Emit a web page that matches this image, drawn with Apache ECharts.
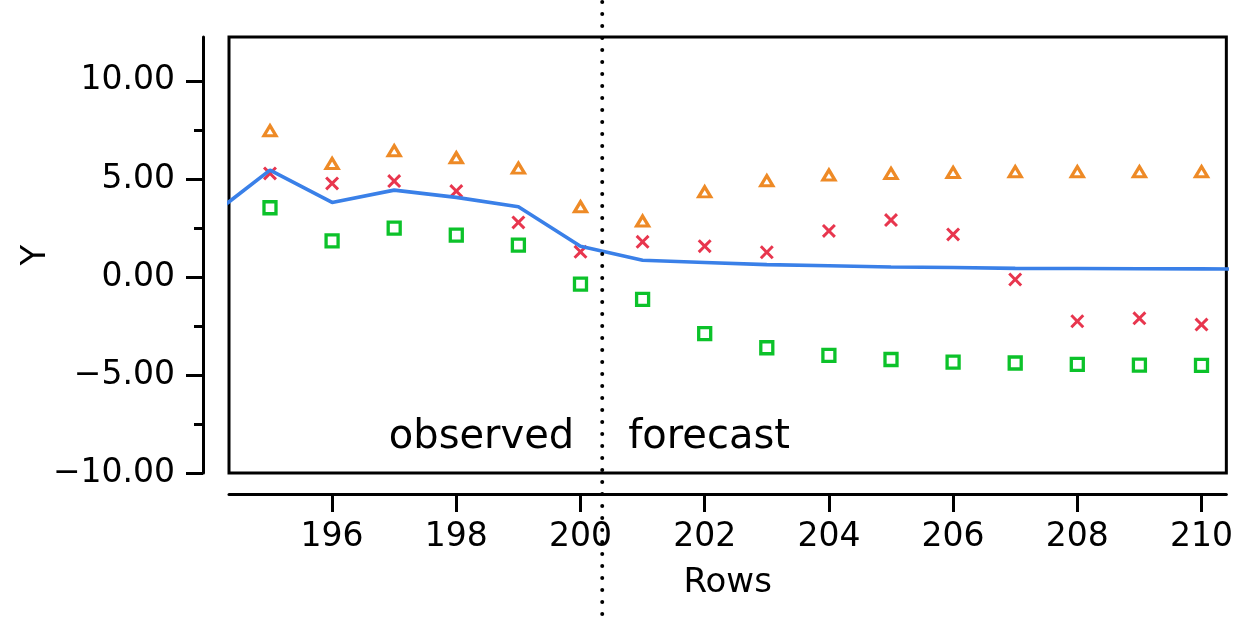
<!DOCTYPE html>
<html>
<head>
<meta charset="utf-8">
<script src="https://cdn.jsdelivr.net/npm/echarts@6/dist/echarts.min.js"></script>
<style>
html,body{margin:0;padding:0;background:#fff;}
#main{width:1236px;height:621px;}
</style>
</head>
<body>
<div id="main"></div>
<script>
// ---- data ----
const rows = [194, 195, 196, 197, 198, 199, 200, 201, 202, 203, 204, 205, 206, 207, 208, 209, 210, 211];
const predicted = [3.0, 5.45, 3.80, 4.43, 4.06, 3.58, 1.57, 0.85, 0.74, 0.63, 0.57, 0.51, 0.48, 0.44, 0.43, 0.42, 0.41, 0.40];
const markRows = [195, 196, 197, 198, 199, 200, 201, 202, 203, 204, 205, 206, 207, 208, 209, 210];
const upper = [7.46, 5.79, 6.44, 6.08, 5.55, 3.58, 2.85, 4.34, 4.91, 5.20, 5.28, 5.33, 5.37, 5.37, 5.37, 5.37];
const actual = [5.28, 4.77, 4.89, 4.38, 2.78, 1.28, 1.79, 1.57, 1.26, 2.35, 2.90, 2.17, -0.13, -2.26, -2.11, -2.43];
const lower = [3.53, 1.84, 2.49, 2.13, 1.62, -0.37, -1.14, -2.89, -3.61, -4.00, -4.21, -4.34, -4.39, -4.46, -4.50, -4.51];
const xTicks = [196, 198, 200, 202, 204, 206, 208, 210];
const yTicks = [-10, -5, 0, 5, 10];
const yMinorTicks = [-7.5, -2.5, 2.5, 7.5];
const forecastStart = 200.35;
const textLevel = -8.2;
const labelObserved = 'observed';
const labelForecast = 'forecast';

const pairs = (xs, ys) => xs.map((x, i) => [x, ys[i]]);
const FONT = "'DejaVu Sans', sans-serif";
const X_PATH = 'path://M0,1.5 L1.5,0 L5,3.5 L8.5,0 L10,1.5 L6.5,5 L10,8.5 L8.5,10 L5,6.5 L1.5,10 L0,8.5 L3.5,5 Z';

const chart = echarts.init(document.getElementById('main'), null, {renderer: 'canvas'});
const option = {
  backgroundColor: '#fff',
  animation: false,
  grid: {left: 229, right: 8, top: 37, bottom: 148, show: true, borderColor: '#000', borderWidth: 3, backgroundColor: 'transparent'},
  xAxis: {
    type: 'value', min: 194.34, max: 210.4,
    offset: 21,
    name: 'Rows', nameLocation: 'middle', nameGap: 72, nameMoveOverlap: false,
    nameTextStyle: {fontFamily: FONT, fontSize: 34, color: '#000'},
    axisLine: {show: true, onZero: false, lineStyle: {color: '#000', width: 3}},
    axisTick: {show: true, length: 18, lineStyle: {color: '#000', width: 3}, customValues: xTicks},
    axisLabel: {fontFamily: FONT, fontSize: 33, color: '#000', margin: 27, customValues: xTicks},
    splitLine: {show: false}
  },
  yAxis: [{
    type: 'value', min: -10, max: 12.24,
    offset: 26,
    name: 'Y', nameLocation: 'middle', nameGap: 150, nameMoveOverlap: false,
    nameTextStyle: {fontFamily: FONT, fontSize: 34, color: '#000'},
    axisLine: {show: true, onZero: false, lineStyle: {color: '#000', width: 3}},
    axisTick: {show: true, length: 17, lineStyle: {color: '#000', width: 3}, customValues: yTicks},
    axisLabel: {fontFamily: FONT, fontSize: 33, color: '#000', margin: 28, customValues: yTicks,
      formatter: v => (v < 0 ? '\u2212' : '') + Math.abs(v).toFixed(2)},
    splitLine: {show: false}
  }, {
    type: 'value', min: -10, max: 12.24, position: 'left',
    offset: 26,
    axisLine: {show: false},
    axisTick: {show: true, length: 9, lineStyle: {color: '#000', width: 3}, customValues: yMinorTicks},
    axisLabel: {show: false},
    splitLine: {show: false}
  }],
  series: [
    {
      type: 'scatter', data: pairs(markRows, upper), symbol: 'triangle', symbolSize: [12, 10],
      itemStyle: {color: 'rgba(255,255,255,0)', borderColor: '#ee8a26', borderWidth: 3.2, opacity: 1}, z: 2
    },
    {
      type: 'scatter', data: pairs(markRows, actual), symbol: X_PATH, symbolSize: 14,
      itemStyle: {color: '#e8364e', opacity: 1}, z: 2
    },
    {
      type: 'scatter', data: pairs(markRows, lower), symbol: 'rect', symbolSize: 12,
      itemStyle: {color: 'rgba(255,255,255,0)', borderColor: '#0cc22a', borderWidth: 3.3, opacity: 1}, z: 2
    },
    {
      type: 'line', data: pairs(rows, predicted), showSymbol: false, symbol: 'none',
      lineStyle: {color: '#3a80e8', width: 3.6}, clip: true, z: 4
    }
  ]
};
chart.setOption(option);

function addOverlay() {
  const p = chart.convertToPixel({gridIndex: 0}, [forecastStart, textLevel]);
  const lx = p[0], ty = p[1];
  chart.setOption({
    graphic: [
      {type: 'line', shape: {x1: lx, y1: 2, x2: lx, y2: 625},
        style: {stroke: '#000', lineWidth: 4, lineDash: [0, 12], lineCap: 'round'}, z: 10},
      {type: 'text', x: lx - 28, y: ty,
        style: {text: labelObserved, fill: '#000', font: "40px 'Comic Sans MS', 'DejaVu Sans', sans-serif", align: 'right', verticalAlign: 'middle'}, z: 10},
      {type: 'text', x: lx + 26, y: ty,
        style: {text: labelForecast, fill: '#000', font: "40px 'Comic Sans MS', 'DejaVu Sans', sans-serif", align: 'left', verticalAlign: 'middle'}, z: 10}
    ]
  });
}
addOverlay();
</script>
</body>
</html>
